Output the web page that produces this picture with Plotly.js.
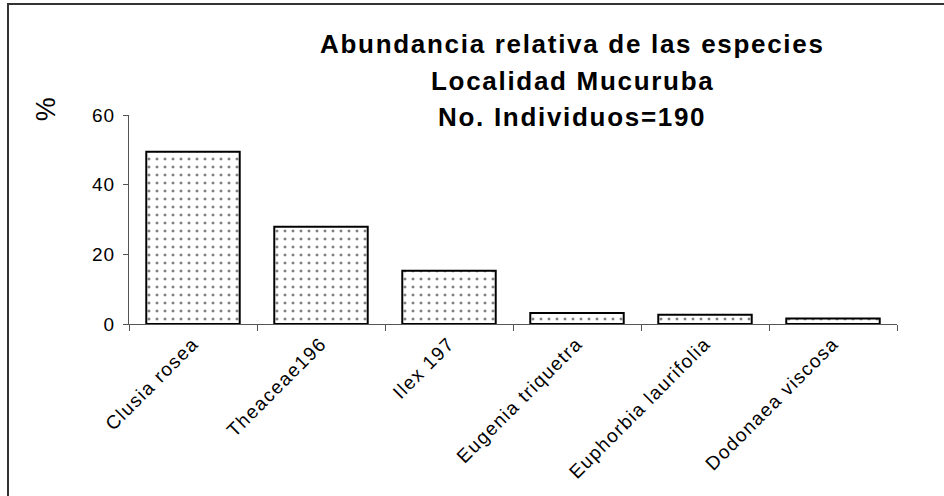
<!DOCTYPE html>
<html>
<head>
<meta charset="utf-8">
<script src="https://cdn.plot.ly/plotly-3.0.1.min.js"></script>
<style>
html,body{margin:0;padding:0;background:#fff;}
#chart{width:944px;height:496px;}
.annotation-text{letter-spacing:1.7px;}
.annotation[data-index="3"] .annotation-text{letter-spacing:0;}
.xtick text{letter-spacing:1.4px;}
.ytick text{letter-spacing:1px;}
</style>
</head>
<body>
<div id="chart"></div>
<script>
const species = ["Clusia rosea", "Theaceae196", "Ilex 197", "Eugenia triquetra", "Euphorbia laurifolia", "Dodonaea viscosa"];
const abundance = [49.47, 27.89, 15.26, 3.16, 2.63, 1.58];
const yTicks = [0, 20, 40, 60];
const titleLines = ["Abundancia relativa de las especies", "Localidad Mucuruba", "No. Individuos=190"];
const yLabel = "%";

const W = 944, H = 496;
const M = {l: 129, r: 47, t: 115, b: 172};
const pw = W - M.l - M.r, ph = H - M.t - M.b;
const px = x => (x - M.l) / pw;
const py = y => (H - M.b - y) / ph;

const font = "Liberation Sans, Arial, sans-serif";
const titleY = [44, 81, 117];
const annotations = titleLines.map((t, i) => ({
  text: "<b>" + t + "</b>", xref: "paper", yref: "paper",
  x: px(572), y: py(titleY[i]), xanchor: "center", yanchor: "middle",
  showarrow: false, font: {family: font, size: 26, color: "#000"}
}));
annotations.push({
  text: yLabel, xref: "paper", yref: "paper", x: px(46), y: py(109),
  xanchor: "center", yanchor: "middle", textangle: -90, showarrow: false,
  font: {family: font, size: 27, color: "#000"}
});

const trace = {
  type: "bar", x: species, y: abundance,
  marker: {
    color: "#fff",
    line: {color: "#000", width: 2},
    pattern: {shape: ".", fgcolor: "#000", bgcolor: "#fff", size: 8, solidity: 0.11, fillmode: "overlay"}
  },
  hoverinfo: "x+y"
};

const layout = {
  width: W, height: H,
  margin: M,
  paper_bgcolor: "#fff", plot_bgcolor: "#fff",
  showlegend: false,
  bargap: 0.27,
  xaxis: {
    type: "category", tickangle: -45, tickson: "boundaries",
    ticks: "outside", ticklen: 6, tickcolor: "#555", tickwidth: 1,
    showline: true, linecolor: "#555", linewidth: 1,
    showgrid: false, zeroline: false,
    tickfont: {family: font, size: 19, color: "#000"}
  },
  yaxis: {
    range: [0, 60], tickvals: yTicks, ticktext: yTicks.map(String),
    ticks: "outside", ticklen: 5, tickcolor: "#555", tickwidth: 1,
    ticklabelstandoff: 4,
    showline: true, linecolor: "#555", linewidth: 1,
    showgrid: false, zeroline: false,
    tickfont: {family: font, size: 19, color: "#000"}
  },
  annotations: annotations,
  shapes: [
    {type: "line", xref: "paper", yref: "paper", x0: px(8), x1: px(8), y0: py(3), y1: py(H + 5), line: {color: "#333", width: 2}},
    {type: "line", xref: "paper", yref: "paper", x0: px(7), x1: px(W + 5), y0: py(4), y1: py(4), line: {color: "#333", width: 2}}
  ]
};

Plotly.newPlot("chart", [trace], layout, {displayModeBar: false, staticPlot: true});
</script>
</body>
</html>
